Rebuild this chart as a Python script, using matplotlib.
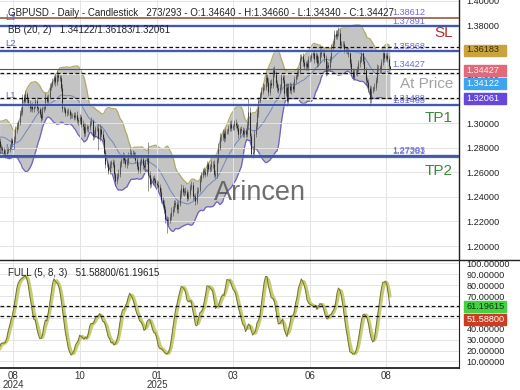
import numpy as np
import pandas as pd
import matplotlib
matplotlib.use("Agg")
import matplotlib.pyplot as plt
from matplotlib.lines import Line2D
from matplotlib.patches import Rectangle
from matplotlib.ticker import FormatStrFormatter

plt.rcParams['font.family'] = ['Liberation Sans', 'DejaVu Sans']

W, H = 520, 390

# --- price data (daily closes, wick sizes in pips) ---
warmup_closes = [1.2815, 1.2805, 1.2795, 1.2845, 1.2905, 1.2985, 1.2970, 1.2975, 1.3005, 1.2955,
                 1.2915, 1.2925, 1.2905, 1.2910, 1.2865, 1.2855, 1.2845, 1.2835, 1.2855, 1.2810]
warmup_hi_wick = [20, 25, 18, 30, 27, 22, 19, 26, 35, 24, 21, 28, 23, 18, 25, 30, 22, 20, 27, 24]
warmup_lo_wick = [24, 19, 27, 22, 18, 25, 30, 21, 26, 33, 28, 20, 24, 29, 22, 19, 27, 25, 23, 60]

closes = [
    1.2800, 1.2785, 1.2760, 1.2752, 1.2775, 1.2790, 1.2805, 1.2860, 1.2840, 1.2870,
    1.2945, 1.2985, 1.3010, 1.3085, 1.3095, 1.3215, 1.3185, 1.3240, 1.3195, 1.3165,
    1.3125, 1.3145, 1.3120, 1.3145, 1.3180, 1.3125, 1.3115, 1.3075, 1.3045, 1.3120,
    1.3125, 1.3215, 1.3180, 1.3215, 1.3295, 1.3315, 1.3345, 1.3375, 1.3335, 1.3395,
    1.3375, 1.3370, 1.3290, 1.3125, 1.3115, 1.3085, 1.3095, 1.3100, 1.3070, 1.3065,
    1.3065, 1.3055, 1.3070, 1.3030, 1.3015, 1.3050, 1.2995, 1.2975, 1.2920, 1.2970,
    1.2960, 1.2970, 1.3005, 1.3015, 1.2895, 1.2915, 1.2960, 1.2965, 1.2880, 1.2955,
    1.2915, 1.2870, 1.2760, 1.2665, 1.2665, 1.2615, 1.2665, 1.2685, 1.2670, 1.2585,
    1.2530, 1.2570, 1.2590, 1.2670, 1.2700, 1.2735, 1.2700, 1.2665, 1.2685, 1.2745,
    1.2760, 1.2745, 1.2755, 1.2740, 1.2705, 1.2655, 1.2620, 1.2685, 1.2710, 1.2660,
    1.2640, 1.2690, 1.2715, 1.2580, 1.2505, 1.2530, 1.2555, 1.2535, 1.2515, 1.2500,
    1.2480, 1.2440, 1.2375, 1.2345, 1.2300, 1.2220, 1.2200, 1.2215, 1.2240, 1.2280,
    1.2300, 1.2350, 1.2340, 1.2300, 1.2345, 1.2420, 1.2475, 1.2440, 1.2450, 1.2440,
    1.2395, 1.2420, 1.2480, 1.2495, 1.2405, 1.2405, 1.2365, 1.2450, 1.2460, 1.2550,
    1.2580, 1.2615, 1.2600, 1.2590, 1.2665, 1.2630, 1.2640, 1.2665, 1.2670, 1.2590,
    1.2580, 1.2705, 1.2800, 1.2890, 1.2885, 1.2920, 1.2880, 1.2935, 1.2935, 1.2960,
    1.2995, 1.2965, 1.2975, 1.3000, 1.2990, 1.2965, 1.2915, 1.2950, 1.2945, 1.2915,
    1.2935, 1.2915, 1.2990, 1.3095, 1.2895, 1.2750, 1.2770, 1.2915, 1.2980, 1.3080,
    1.3185, 1.3230, 1.3265, 1.3300, 1.3300, 1.3375, 1.3335, 1.3255, 1.3330, 1.3315,
    1.3435, 1.3405, 1.3325, 1.3285, 1.3275, 1.3300, 1.3375, 1.3355, 1.3245, 1.3300,
    1.3185, 1.3305, 1.3270, 1.3305, 1.3280, 1.3360, 1.3385, 1.3410, 1.3425, 1.3535,
    1.3545, 1.3500, 1.3465, 1.3490, 1.3460, 1.3525, 1.3530, 1.3555, 1.3570, 1.3525,
    1.3555, 1.3490, 1.3520, 1.3590, 1.3570, 1.3575, 1.3530, 1.3420, 1.3475, 1.3455,
    1.3525, 1.3615, 1.3650, 1.3730, 1.3715, 1.3735, 1.3740, 1.3635, 1.3645, 1.3645,
    1.3600, 1.3595, 1.3590, 1.3570, 1.3495, 1.3425, 1.3380, 1.3415, 1.3415, 1.3440,
    1.3490, 1.3520, 1.3575, 1.3510, 1.3435, 1.3350, 1.3335, 1.3285, 1.3205, 1.3275,
    1.3285, 1.3300, 1.3355, 1.3450, 1.3450, 1.3440, 1.3500, 1.3575, 1.3530, 1.3555,
    1.3525, 1.3464, 1.34427,
]
hi_wick = [
    22, 18, 25, 30, 16, 20, 28, 24, 19, 26,
    31, 22, 18, 27, 35, 20, 24, 29, 17, 23,
    26, 19, 30, 21, 25, 33, 18, 22, 27, 20,
    24, 29, 18, 23, 31, 20, 26, 22, 35, 39,
    21, 18, 27, 33, 22, 19, 25, 28, 17, 24,
    20, 26, 23, 30, 18, 25, 21, 29, 24, 32,
    27, 19, 24, 36, 22, 28, 20, 25, 31, 38,
    23, 29, 18, 26, 33, 21, 27, 19, 24, 30,
    22, 28, 35, 24, 19, 31, 26, 21, 29, 25,
    40, 23, 27, 20, 25, 30, 22, 28, 24, 33,
    26, 21, 29, 135, 32, 24, 19, 27, 22, 25,
    28, 23, 31, 26, 34, 29, 21, 25, 30, 36,
    24, 27, 22, 30, 25, 38, 29, 23, 26, 31,
    21, 28, 25, 33, 24, 20, 27, 30, 22, 29,
    26, 22, 30, 24, 28, 21, 25, 32, 23, 27,
    30, 24, 36, 28, 22, 31, 25, 29, 20, 26,
    23, 29, 21, 27, 32, 24, 26, 22, 30, 25,
    28, 24, 31, 112, 35, 30, 42, 33, 28, 36,
    29, 25, 33, 27, 24, 38, 26, 31, 22, 28,
    25, 30, 22, 27, 33, 24, 29, 21, 35, 26,
    31, 24, 28, 22, 30, 26, 20, 27, 25, 33,
    23, 29, 26, 21, 28, 24, 30, 22, 27, 25,
    28, 22, 30, 25, 21, 27, 31, 24, 29, 23,
    26, 32, 24, 30, 27, 22, 48, 25, 29, 23,
    27, 21, 25, 30, 24, 28, 22, 26, 31, 24,
    29, 25, 32, 23, 27, 21, 26, 30, 24, 28,
    22, 27, 25, 31, 24, 29, 23, 28, 26, 30,
    24, 20, 2,
]
lo_wick = [
    25, 30, 22, 35, 28, 20, 24, 18, 26, 21,
    19, 24, 28, 20, 23, 26, 30, 22, 27, 25,
    29, 22, 26, 31, 20, 24, 27, 23, 33, 21,
    25, 20, 28, 23, 19, 26, 22, 24, 29, 21,
    27, 24, 30, 35, 25, 28, 22, 26, 31, 23,
    24, 29, 21, 27, 30, 23, 26, 28, 32, 25,
    22, 27, 24, 20, 33, 26, 29, 25, 100, 24,
    28, 23, 31, 26, 22, 30, 25, 27, 24, 33,
    43, 26, 22, 28, 25, 20, 27, 24, 29, 23,
    26, 21, 28, 24, 30, 27, 23, 29, 25, 31,
    24, 28, 22, 130, 33, 26, 29, 25, 22, 27,
    30, 25, 28, 23, 31, 35, 90, 27, 24, 29,
    33, 26, 24, 30, 28, 22, 27, 25, 29, 24,
    28, 23, 26, 21, 31, 25, 29, 24, 27, 22,
    25, 29, 23, 27, 22, 30, 24, 26, 28, 31,
    27, 22, 25, 20, 28, 24, 30, 23, 26, 25,
    24, 28, 22, 27, 25, 29, 32, 23, 26, 28,
    26, 30, 24, 33, 38, 25, 30, 27, 24, 29,
    27, 23, 26, 30, 25, 28, 32, 35, 24, 27,
    29, 25, 31, 27, 24, 26, 22, 30, 28, 25,
    40, 27, 25, 29, 23, 26, 30, 24, 28, 25,
    26, 29, 23, 27, 25, 22, 28, 24, 26, 30,
    25, 28, 24, 26, 30, 23, 27, 36, 25, 29,
    28, 24, 27, 22, 26, 29, 25, 31, 24, 27,
    26, 23, 28, 30, 34, 32, 27, 25, 24, 28,
    25, 27, 23, 29, 32, 35, 28, 30, 65, 40,
    27, 24, 29, 26, 23, 28, 30, 25, 27, 24,
    28, 26, 9,
]

tick_pos = [8.4, 55.2, 109.1, 162.2, 216.1, 269.2]
tick_labels = ["08\n2024", "10", "01\n2025", "03", "06", "08"]

bb_values = (1.34122, 1.36183, 1.32061)
stoch_values = (51.58800, 61.19615)
last_close = 1.34427
navy_levels = [1.37891, 1.35868, 1.31488, 1.27303]
l3_level = 1.38612


def px(x):
    return x / W


def py(y):
    return 1 - y / H


# full series incl. warmup
c_all = np.array(warmup_closes + closes)
o_all = np.concatenate([[1.2800], c_all[:-1]])
hw = np.array(warmup_hi_wick + hi_wick) / 10000
lw_ = np.array(warmup_lo_wick + lo_wick) / 10000
h_all = np.maximum(o_all, c_all) + hw
l_all = np.minimum(o_all, c_all) - lw_
x_all = np.arange(len(c_all)) - len(warmup_closes)

s = pd.Series(c_all)
mid = s.rolling(20).mean()
sd = s.rolling(20).std(ddof=0)
upper = mid + 2 * sd
lower = mid - 2 * sd

hh = pd.Series(h_all).rolling(5).max()
ll = pd.Series(l_all).rolling(5).min()
raw_k = 100 * (s - ll) / (hh - ll)
k_line = raw_k.rolling(8).mean()
d_line = k_line.rolling(3).mean()

fig = plt.figure(figsize=(W / 100, H / 100), dpi=100)
ax = fig.add_axes([0, py(260), px(459), 260 / H])
ax2 = fig.add_axes([0, py(368), px(459), 108 / H])

xlim = (-0.7, 320.3)
grid_c = '#e4e4e4'

# price panel
ax.set_xlim(*xlim)
ax.set_ylim(1.1886, 1.4005)
ax.set_yticks(np.arange(1.20, 1.4001, 0.02))
ax.yaxis.set_major_formatter(FormatStrFormatter('%.5f'))
ax.yaxis.tick_right()
ax.tick_params(axis='y', length=0, pad=5.5, labelsize=6.6, labelcolor='#222222')
ax.set_xticks(tick_pos)
ax.tick_params(axis='x', length=0, labelbottom=False)
ax.grid(True, color=grid_c, lw=0.7, zorder=0)
for sp in ['left', 'top', 'bottom']:
    ax.spines[sp].set_visible(False)
ax.spines['right'].set_color('#222222')
ax.spines['right'].set_linewidth(1.0)

ax.fill_between(x_all, lower, upper, color='#c4c4c4', zorder=1, lw=0)
ax.plot(x_all, upper, color='#b3aa68', lw=0.9, zorder=1.5)
ax.plot(x_all, lower, color='#6f62c9', lw=0.9, zorder=1.5)
ax.plot(x_all, mid, color='#7088c0', lw=0.7, zorder=1.5)

up = c_all >= o_all
ax.vlines(x_all, l_all, h_all, color='#444444', lw=0.4, zorder=2)
ax.vlines(x_all[up], o_all[up], c_all[up], color='#555555', lw=0.75, zorder=2)
ax.vlines(x_all[~up], c_all[~up], o_all[~up], color='#2a2a2a', lw=0.75, zorder=2)

# horizontal levels
ax.axhline(l3_level, color='#a0583a', lw=1.2, zorder=3)
for lv in navy_levels:
    ax.axhline(lv, color='#aac8ee', lw=2.6, alpha=0.55, zorder=3)
    ax.axhline(lv, color='#2f3c9c', lw=1.2, zorder=3.1)
ax.axhline(1.27270, color='#4d7a4d', lw=0.9, zorder=3)
ax.axhline(last_close, color='#555555', lw=0.8, zorder=3)
for v in bb_values:
    ax.axhline(v, color='#111111', lw=0.9, ls=(0, (3, 2)), zorder=3.2)

lab_x = 273.4
lab_kw = dict(textcoords='offset points', va='bottom', ha='left', fontsize=6.6,
              color='#6b6bd6', zorder=5)
for txt, lv, dy in [("1.38612", l3_level, 0.3), ("1.37891", 1.37891, 0.3),
                    ("1.35868", 1.35868, 0.3), ("1.34427", last_close, 0.3),
                    ("1.31463", 1.31488, 0.3), ("1.31488", 1.31488, 1.2),
                    ("1.27281", 1.27303, 0.3), ("1.27303", 1.27303, 0.9)]:
    ax.annotate(txt, (lab_x, lv), xytext=(0, dy), **lab_kw)

for txt, x, y in [("L3", 10, 17), ("L2", 11, 44), ("L1", 10, 96), ("L6", 10, 147)]:
    fig.text(px(x), py(y), txt, fontsize=6.8, color='#5a66d0', ha='center', va='center')

fig.text(px(453), py(33), "SL", fontsize=11, color='#b03030', ha='right', va='center')
fig.text(px(453), py(84), "At Price", fontsize=11, color='#a3a3a3', ha='right', va='center')
fig.text(px(453), py(118), "TP1", fontsize=11, color='#3a8a3a', ha='right', va='center')
fig.text(px(453), py(171), "TP2", fontsize=11, color='#3a8a3a', ha='right', va='center')
fig.text(px(260), py(193), "Arincen", fontsize=19.5, color='#555555', alpha=0.85,
         ha='center', va='center')

fig.text(px(8), py(12.7), "GBPUSD - Daily - Candlestick   273/293 - O:1.34640 - H:1.34660 - L:1.34340 - C:1.34427",
         fontsize=7, color='#222222', ha='left', va='center')
fig.text(px(8), py(30), "BB (20, 2)   1.34122/1.36183/1.32061",
         fontsize=7, color='#222222', ha='left', va='center')

# stochastic panel
ax2.set_xlim(*xlim)
ax2.set_ylim(4, 103)
ax2.set_yticks(np.arange(10, 101, 10))
ax2.yaxis.set_major_formatter(FormatStrFormatter('%.5f'))
ax2.yaxis.tick_right()
ax2.tick_params(axis='y', length=0, pad=5.5, labelsize=6.6, labelcolor='#222222')
ax2.set_xticks(tick_pos)
ax2.set_xticklabels(tick_labels, fontsize=7, color='#333333', linespacing=0.95)
ax2.tick_params(axis='x', length=0, pad=2)
ax2.grid(True, color=grid_c, lw=0.7, zorder=0)
ax2.spines['left'].set_visible(False)
ax2.spines['top'].set_visible(False)
ax2.spines['right'].set_color('#222222')
ax2.spines['bottom'].set_color('#222222')
ax2.spines['bottom'].set_linewidth(1.3)

ax2.plot(x_all, d_line, color='#c5cd72', lw=2.4, zorder=2, solid_capstyle='round')
ax2.plot(x_all, k_line, color='#75702e', lw=0.7, zorder=3)
for v in stoch_values:
    ax2.axhline(v, color='#111111', lw=0.9, ls=(0, (3, 2)), zorder=4)

fig.text(px(8), py(273), "FULL (5, 8, 3)   51.58800/61.19615",
         fontsize=7, color='#222222', ha='left', va='center')

fig.add_artist(Line2D([0, 1], [py(260), py(260)], color='#222222', lw=1.0))

# value boxes on the right scale
boxes = [
    ("1.36183", 50, '#c9a33c', '#3a2c08'),
    ("1.34427", 70.7, '#e0697a', '#fff0f0'),
    ("1.34122", 83, '#3ea4ee', '#f4faff'),
    ("1.32061", 98.7, '#6646dc', '#ffffff'),
    ("61.19615", 306.7, '#46d046', '#0c380c'),
    ("51.58800", 319.3, '#cc3c20', '#ffffff'),
]
for txt, yc, bg, fg in boxes:
    fig.add_artist(Rectangle((px(464), py(yc + 5.5)), 42 / W, 11 / H,
                             transform=fig.transFigure, color=bg, zorder=10))
    fig.text(px(466.5), py(yc), txt, fontsize=6.6, color=fg, ha='left', va='center', zorder=11)

fig.savefig("out.png", dpi=100)
